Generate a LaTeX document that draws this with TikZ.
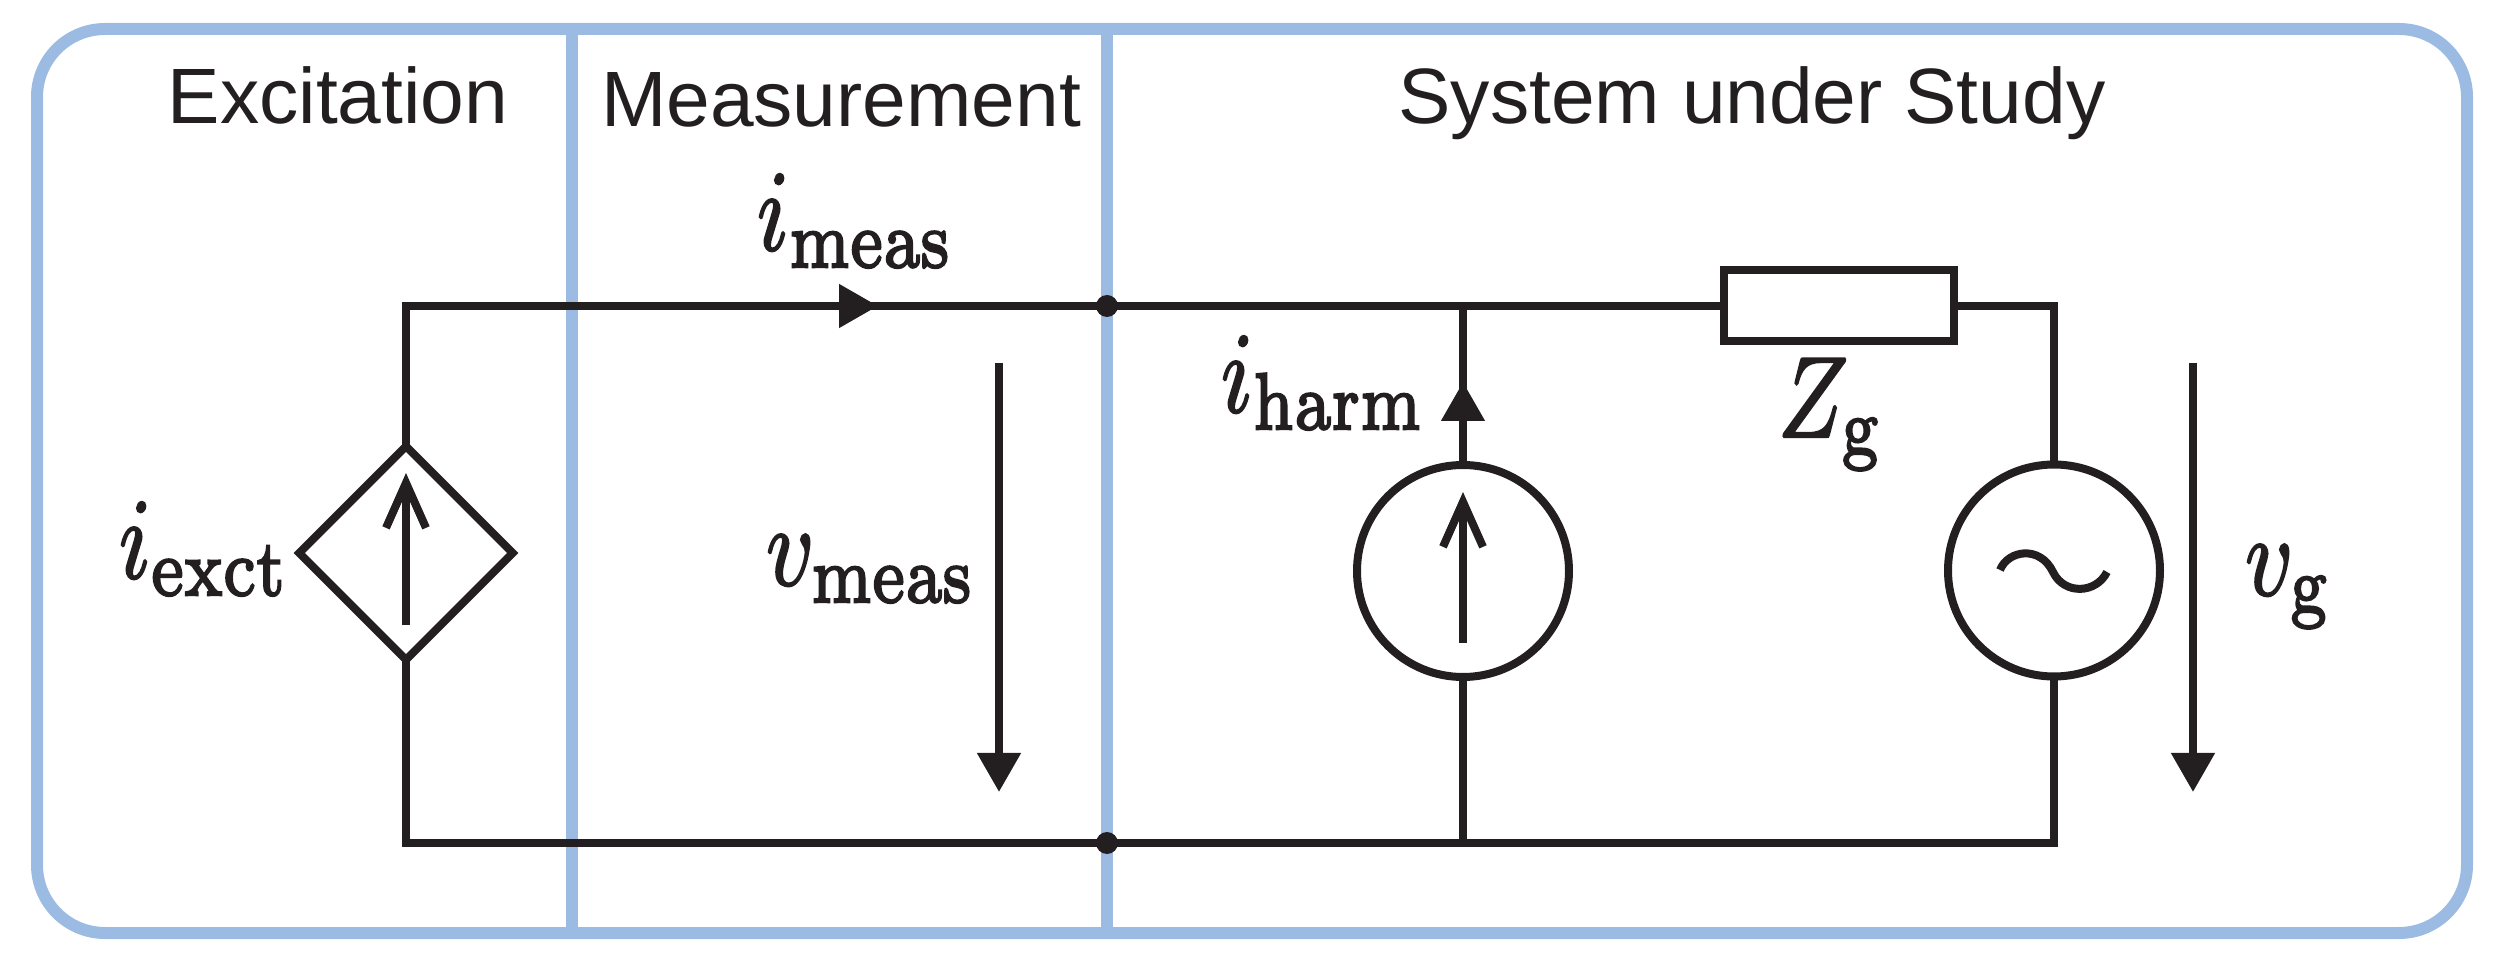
\documentclass[tikz,border=0pt]{standalone}
\usepackage{fontspec}
\setmainfont{Liberation Sans}
\usetikzlibrary{arrows.meta,shapes.geometric}
\DeclareMathAlphabet{\mathcmr}{OT1}{cmr}{m}{n}
\definecolor{bandblue}{HTML}{9CBBE3}
\definecolor{ink}{HTML}{231F20}
\tikzset{
  band/.style={draw=bandblue,line width=2.4pt},
  wire/.style={draw=ink,line width=1.6pt},
  comp/.style={draw=ink,line width=1.6pt,inner sep=0pt,outer sep=0pt},
  srccircle/.style={comp,circle,minimum size=42.4pt},
  srcdiamond/.style={comp,diamond,aspect=1,minimum width=42.7pt,minimum height=42.7pt},
  resbox/.style={comp,rectangle,minimum width=46pt,minimum height=14.2pt},
  junction/.style={circle,fill=ink,inner sep=0pt,outer sep=0pt,minimum size=4.4pt},
  head/.style={draw=ink,line width=1.6pt,-{Triangle[length=7.8pt,width=8.4pt,fill=ink]}},
  inner/.style={draw=ink,line width=1.6pt,-{Straight Barb[length=9pt,width=8pt,line width=1.6pt]}},
  region/.style={inner sep=0pt,anchor=base,text=ink},
  mlabel/.style={inner sep=0pt,anchor=base west,text=ink},
}
\newcommand{\regiontext}[1]{\scalebox{1.57}{#1}}
\newcommand{\mathtext}[1]{\scalebox{1.86}[2.3]{\special{pdf:code 2 Tr 0.2 w}$#1$\special{pdf:code 0 Tr}}}
\begin{document}
\begin{tikzpicture}[x=0.2pt,y=-0.2pt]
\useasboundingbox (0,0) rectangle (2497,958);
% frame
\coordinate (sepAt) at (572,29);
\coordinate (sepAb) at (572,933);
\coordinate (sepBt) at (1107,29);
\coordinate (sepBb) at (1107,933);
\draw[band,rounded corners=13.6pt] (37,29) rectangle (2467,933);
\draw[band] (sepAt) -- (sepAb);
\draw[band] (sepBt) -- (sepBb);
% titles
\node[region] (t1) at (338,124) {\regiontext{Excitation}};
\node[region] (t2) at (841,127) {\regiontext{Measurement}};
\node[region] (t3) at (1752,124) {\regiontext{System under Study}};
% components
\node[srcdiamond] (ex) at (406,553) {};
\node[srccircle] (harm) at (1463,571) {};
\node[srccircle] (vs) at (2054,570.5) {};
\node[resbox] (res) at (1839,306) {};
\node[junction] (jt) at (1107,306) {};
\node[junction] (jb) at (1107,843) {};
\coordinate (ht) at (1463,306);
\coordinate (hb) at (1463,843);
% wires
\draw[wire] (ex.north) |- (jt.center) -- (res.west);
\draw[wire] (res.east) -| (vs.north);
\draw[wire] (vs.south) |- (jb.center) -| (ex.south);
\draw[wire] (harm.south) -- (hb);
\draw[wire] (harm.north) -- (ht);
% arrowheads on wires
\coordinate (ia) at (820,306);
\coordinate (ib) at (878,306);
\draw[head] (ia) -- (ib);
\coordinate (ha) at (1463,440);
\coordinate (hc) at (1463,382);
\draw[head] (ha) -- (hc);
% voltage arrows
\coordinate (vma) at (999,363);
\coordinate (vmb) at (999,792);
\draw[head] (vma) -- (vmb);
\coordinate (vga) at (2193,363);
\coordinate (vgb) at (2193,792);
\draw[head] (vga) -- (vgb);
% symbols inside sources
\coordinate (exa) at (406,625);
\coordinate (exb) at (406,473);
\draw[inner] (exa) -- (exb);
\coordinate (hia) at (1463,643);
\coordinate (hib) at (1463,492);
\draw[inner] (hia) -- (hib);
\draw[draw=ink,line width=1.6pt] (2000,570)
  .. controls (2008,550) and (2040,545) .. (2053,572)
  .. controls (2064,595) and (2096,594) .. (2107,572);
% labels
\node[mlabel] (limeas) at (756,250) {\mathtext{i_{\mathcmr{meas}}}};
\node[mlabel] (liexct) at (118,578) {\mathtext{i_{\mathcmr{exct}}}};
\node[mlabel] (lvmeas) at (765,585) {\mathtext{v_{\mathcmr{meas}}}};
\node[mlabel] (liharm) at (1220,412) {\mathtext{i_{\mathcmr{harm}}}};
\node[mlabel] (lzg) at (1777,437) {\mathtext{Z_{\mathcmr{g}}}};
\node[mlabel] (lvg) at (2244,595) {\mathtext{v_{\mathcmr{g}}}};
\end{tikzpicture}
\end{document}
